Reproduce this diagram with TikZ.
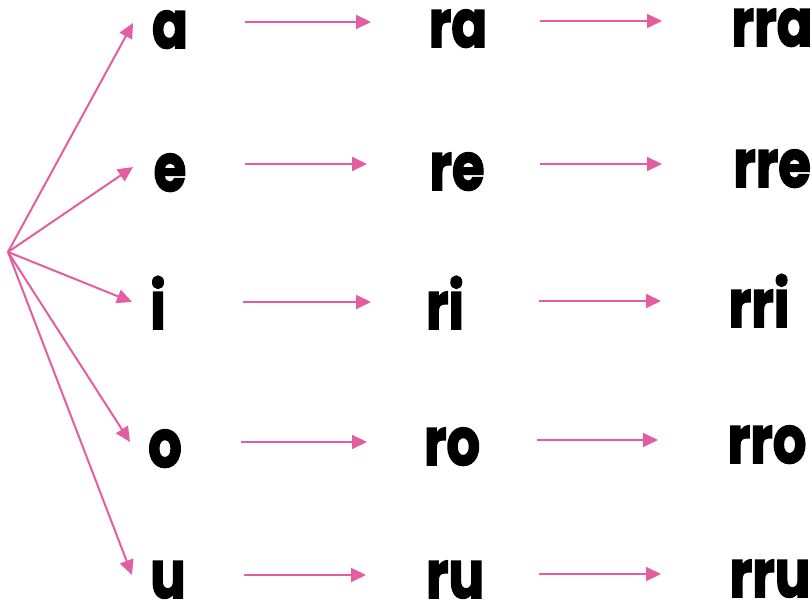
\documentclass[tikz,border=0pt]{standalone}
\usepackage{fontspec}
\setmainfont{Poppins}
\usetikzlibrary{arrows.meta}
\definecolor{pinkc}{RGB}{226,94,160}
\begin{document}
\begin{tikzpicture}[x=1pt,y=-1pt,
  syl/.style={inner sep=0pt,anchor=base,font=\fontsize{66}{66}\selectfont\bfseries\addfontfeatures{FakeBold=2.5},xscale=0.8,transform shape},
  conn/.style={draw=pinkc,line width=2pt,-{Triangle[length=15pt,width=14pt]}}]
\useasboundingbox (0,0) rectangle (812,604);
\coordinate (o) at (8,252);
% first column
\node[syl] (a) at (170,48) {a};
\node[syl] (e) at (170,191) {e};
\node[syl] (i) at (158,329) {i};
\node[syl] (vo) at (165,467) {o};
\node[syl] (u) at (168,598) {u};
% second column
\node[syl] (ra) at (458,47) {ra};
\node[syl] (re) at (457,190) {re};
\node[syl] (ri) at (445,329) {ri};
\node[syl] (ro) at (452,465) {ro};
\node[syl] (ru) at (455,598) {ru};
% third column
\node[syl] (rra) at (772,46) {rra};
\node[syl] (rre) at (772,187) {rre};
\node[syl] (rri) at (759,327) {rri};
\node[syl] (rro) at (767,463) {rro};
\node[syl] (rru) at (770,597) {rru};
% fan arrow tips
\coordinate (ta) at (133,23);
\coordinate (te) at (133,167);
\coordinate (ti) at (132,302);
\coordinate (to) at (130,442);
\coordinate (tu) at (132,575);
\foreach \t in {ta,te,ti,to,tu} \draw[conn] (o) -- (\t);
% horizontal arrows
\coordinate (a1) at (245,22); \coordinate (a2) at (371,22);
\coordinate (a3) at (540,21); \coordinate (a4) at (662,21);
\coordinate (e1) at (245,164); \coordinate (e2) at (367,164);
\coordinate (e3) at (540,164); \coordinate (e4) at (662,164);
\coordinate (i1) at (243,302); \coordinate (i2) at (371,302);
\coordinate (i3) at (539,301); \coordinate (i4) at (661,301);
\coordinate (o1) at (241,442); \coordinate (o2) at (367,442);
\coordinate (o3) at (537,440); \coordinate (o4) at (658,440);
\coordinate (u1) at (244,575); \coordinate (u2) at (366,575);
\coordinate (u3) at (539,574); \coordinate (u4) at (661,574);
\foreach \r in {a,e,i,o,u} {
  \draw[conn] (\r1) -- (\r2);
  \draw[conn] (\r3) -- (\r4);
}
\end{tikzpicture}
\end{document}
